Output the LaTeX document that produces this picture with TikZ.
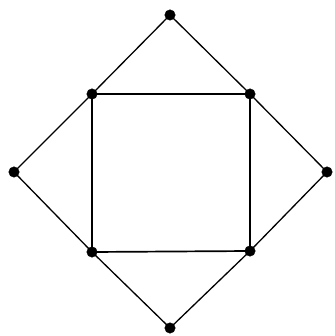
\documentclass[tikz,border=0pt]{standalone}
\usepackage{amsmath,amssymb}
\usepackage{xcolor}
\usepackage{tikz}

\begin{document}
\begin{tikzpicture}[x=1pt,y=-1pt]
\tikzset{vtx/.style={draw,circle,fill=black,inner sep=0pt,minimum size=10.5pt}}
\useasboundingbox (0,0) rectangle (334,336);
\node[vtx](top) at (170,15){};
\node[vtx](left) at (14,172){};
\node[vtx](right) at (327,172){};
\node[vtx](bottom) at (170,328){};
\node[vtx](a) at (92,94){};
\node[vtx](b) at (250,94){};
\node[vtx](c) at (250,251){};
\node[vtx](d) at (92,252){};
\draw[line width=1.3pt] (top.center) -- (b.center) -- (right.center) -- (c.center) -- (bottom.center) -- (d.center) -- (left.center) -- (a.center) -- cycle;
\draw[line width=1.7pt] (a.center) -- (b.center) -- (c.center) -- (d.center) -- cycle;
\end{tikzpicture}
\end{document}
